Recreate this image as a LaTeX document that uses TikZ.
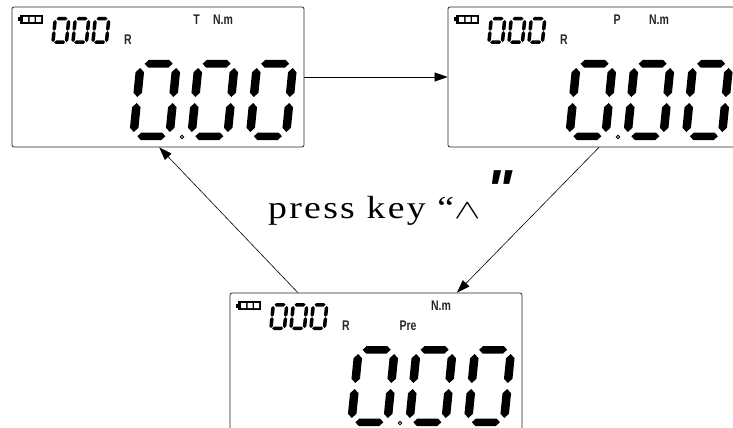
\documentclass[tikz,border=0pt]{standalone}
\usepackage{graphicx}
\usepackage{fontspec}
\setmainfont{Liberation Serif}
\newfontfamily\pressfont{Liberation Serif}[LetterSpace=6]
\newfontfamily\lcdfont{Liberation Sans}
\usetikzlibrary{arrows.meta}
% horizontal LCD segment: left tip (x,y), length, thickness
\newcommand\lcdH[4]{\fill (#1,#2) -- ++(#4/2,#4/2) -- ++(#3-#4,0) -- ++(#4/2,-#4/2) -- ++(-#4/2,-#4/2) -- ++(-#3+#4,0) -- cycle;}
% vertical LCD segment: top tip (x,y), length, thickness
\newcommand\lcdV[4]{\fill (#1,#2) -- ++(#4/2,#4/2) -- ++(0,#3-#4) -- ++(-#4/2,#4/2) -- ++(-#4/2,-#4/2) -- ++(0,-#3+#4) -- cycle;}
\tikzset{
  bigzero/.pic={\begin{scope}[xslant=0.1]
      \lcdH{8}{-3.75}{28}{7.5}
      \lcdH{8}{-76.25}{28}{7.5}
      \lcdV{4}{-72}{29}{8.5}
      \lcdV{4}{-37}{29}{8.5}
      \lcdV{40}{-72}{29}{8.5}
      \lcdV{40}{-37}{29}{8.5}
    \end{scope}},
  smallzero/.pic={\begin{scope}[xslant=0.1]
      \lcdH{3}{-1.75}{11}{3.5}
      \lcdH{3}{-25.25}{11}{3.5}
      \lcdV{1.75}{-24}{10.8}{3.5}
      \lcdV{1.75}{-12.8}{10.8}{3.5}
      \lcdV{15.25}{-24}{10.8}{3.5}
      \lcdV{15.25}{-12.8}{10.8}{3.5}
    \end{scope}},
  panel/.style={draw=black!85, line width=0.8pt, rounded corners=2pt,
    minimum width=292pt, minimum height=140pt, inner sep=0pt},
  lcdtxt/.style={font=\lcdfont\bfseries\fontsize{14}{14}\selectfont, xscale=0.75, transform shape, inner sep=0pt, text=black!85},
  arr/.style={line width=0.6pt, -{Triangle[length=13pt,width=9pt]}},
}
% contents of one display; #1 = name suffix
\newcommand\lcdcontent[1]{%
  \fill (20,15) rectangle (43,24);
  \fill (17.5,17.5) rectangle (20,21.5);
  \fill[white] (23,17) rectangle (28,22) (29.5,17) rectangle (34.5,22) (36,17) rectangle (41,22);
  \pic at (51,44) {smallzero};
  \pic at (71,44) {smallzero};
  \pic at (91,44) {smallzero};
  \node[lcdtxt] (r#1) at (128,40) {R};
  \node[lcdtxt] (nm#1) at (223,20) {N.m};
  \pic at (129,140) {bigzero};
  \pic at (187,140) {bigzero};
  \pic at (245.5,140) {bigzero};
  \draw[line width=0.8pt] (182,137) circle (1.8pt);
}
\begin{document}
\begin{tikzpicture}[x=1pt,y=-1pt]
  \useasboundingbox (0,0) rectangle (733,428);
  \clip (0,0) rectangle (733,428);
  \node[panel] (p1) at (158,77) {};
  \node[panel] (p2) at (594,77) {};
  \node[panel] (p3) at (376,363) {};
  \lcdcontent{1}
  \begin{scope}[shift={(436,0)}]\lcdcontent{2}\end{scope}
  \begin{scope}[shift={(218,286)}]\lcdcontent{3}\end{scope}
  \node[lcdtxt] (tlab) at (196.5,20) {T};
  \node[lcdtxt] (plab) at (617,20) {P};
  \node[lcdtxt] (prelab) at (408,326) {Pre};
  \draw[arr] (p1.east) -- (p2.west);
  \draw[arr] (p2.274) -- (p3.41.5);
  \draw[arr] (p3.138.5) -- (p1.271);
  \node[anchor=base west, inner sep=0pt, xscale=1.18, transform shape, font=\pressfont\fontsize{32}{38}\selectfont] (press) at (268,218) {press key “\scalebox{1.35}[1.1]{$\wedge$}};
  \node[anchor=base west, inner sep=0pt, font=\lcdfont\bfseries\itshape\fontsize{55}{55}\selectfont] (quote) at (486,208) {"};
\end{tikzpicture}
\end{document}
